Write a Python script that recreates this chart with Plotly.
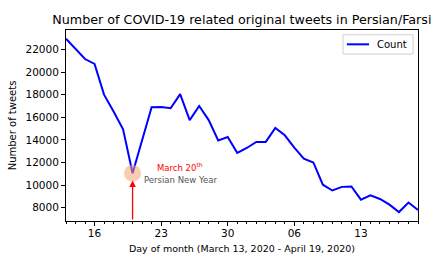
import plotly.graph_objects as go
import pandas as pd

dates = pd.date_range("2020-03-13", "2020-04-19", freq="D").strftime("%Y-%m-%d").tolist()
counts = [22950, 22050, 21150, 20720, 18000, 16500, 14930, 11050, 13950, 16880,
          16900, 16800, 18050, 15750, 17000, 15750, 13950, 14250, 12850, 13280,
          13820, 13820, 15050, 14400, 13320, 12330, 12000, 10030, 9520, 9840,
          9870, 8710, 9090, 8770, 8270, 7610, 8450, 7800]

tick_vals = ["2020-03-16", "2020-03-23", "2020-03-30", "2020-04-06", "2020-04-13"]
tick_text = ["16", "23", "30", "06", "13"]
y_ticks = [8000, 10000, 12000, 14000, 16000, 18000, 20000, 22000]
y_tick_text = [str(v) for v in y_ticks]

series_name = "Count"
event_date = "2020-03-20"
event_value = 11050
label_date = "2020-03-25"

FONT = "DejaVu Sans"
LINE_COLOR = "#0000ff"

fig = go.Figure()
fig.add_trace(go.Scatter(x=dates, y=counts, mode="lines", name=series_name,
                         line=dict(color=LINE_COLOR, width=2), showlegend=False))
fig.add_trace(go.Scatter(x=[event_date], y=[event_value], mode="markers",
                         marker=dict(size=17, color="rgba(240,165,110,0.55)", line=dict(width=0)),
                         showlegend=False, hoverinfo="skip"))

fig.add_annotation(x=event_date, y=10400, ax=event_date, ay=6820, xref="x", yref="y",
                   axref="x", ayref="y", text="", showarrow=True, arrowhead=2,
                   arrowsize=1, arrowwidth=1.3, arrowcolor="red")
fig.add_annotation(x=label_date, y=11560, xref="x", yref="y",
                   text="March 20<sup>th</sup>", showarrow=False,
                   font=dict(family=FONT, size=8.5, color="red"))
fig.add_annotation(x=label_date, y=10440, xref="x", yref="y",
                   text="Persian New Year", showarrow=False,
                   font=dict(family=FONT, size=8.5, color="#555555"))

# legend box (matplotlib style)
fig.add_shape(type="rect", xref="paper", yref="paper", x0=0.787, x1=0.986, y0=0.874, y1=0.975,
              line=dict(color="#d0d0d0", width=1), fillcolor="rgba(255,255,255,0.8)")
fig.add_shape(type="line", xref="paper", yref="paper", x0=0.798, x1=0.861, y0=0.925, y1=0.925,
              line=dict(color=LINE_COLOR, width=2))
fig.add_annotation(x=0.878, y=0.925, xref="paper", yref="paper", xanchor="left", yanchor="middle",
                   text=series_name, showarrow=False, font=dict(family=FONT, size=10, color="black"))

fig.update_layout(
    width=443, height=266,
    margin=dict(l=66, r=25, t=30, b=45),
    paper_bgcolor="white", plot_bgcolor="white",
    font=dict(family=FONT, size=10, color="black"),
    title=dict(text="Number of COVID-19 related original tweets in Persian/Farsi",
               x=0.546, xanchor="center", y=0.925, yanchor="middle",
               font=dict(family=FONT, size=12.7, color="black")),
    showlegend=False,
)
fig.update_xaxes(
    range=["2020-03-13", "2020-04-19"], type="date",
    tickmode="array", tickvals=tick_vals, ticktext=tick_text,
    ticks="outside", ticklen=4, tickcolor="black", tickwidth=1,
    minor=dict(dtick=86400000, tick0="2020-03-13", ticks="outside", ticklen=2,
               tickcolor="black", tickwidth=1),
    showline=True, linecolor="black", linewidth=1, mirror=True,
    showgrid=False, zeroline=False,
    tickfont=dict(family=FONT, size=10.5),
    ticklabelstandoff=-2,
    title=dict(text="Day of month (March 13, 2020 - April 19, 2020)",
               font=dict(family=FONT, size=9.5), standoff=7),
)
fig.update_yaxes(
    range=[6820, 23720], tickmode="array", tickvals=y_ticks, ticktext=y_tick_text,
    ticks="outside", ticklen=4, tickcolor="black", tickwidth=1,
    showline=True, linecolor="black", linewidth=1, mirror=True,
    showgrid=False, zeroline=False,
    tickfont=dict(family=FONT, size=10.5),
    title=dict(text="Number of tweets", font=dict(family=FONT, size=10), standoff=6),
)

fig.write_html("out.html", config={"displayModeBar": False},
               post_script="document.body.style.margin='0';")
